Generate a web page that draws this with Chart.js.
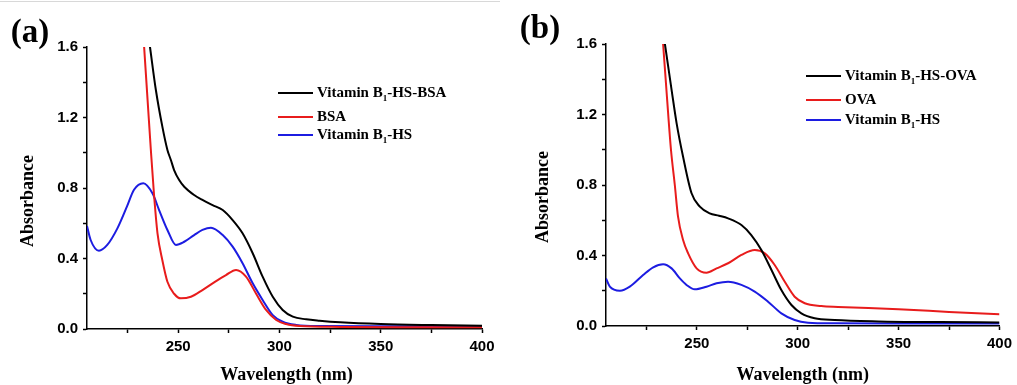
<!DOCTYPE html>
<html>
<head>
<meta charset="utf-8">
<script src="https://cdn.jsdelivr.net/npm/chart.js@4"></script>
<style>
  body { margin: 0; background: #fff; width: 1017px; height: 385px; overflow: hidden; }
  #wrapA, #wrapB { position: absolute; top: 0; }
  #wrapA { left: 0; }
  #wrapB { left: 510px; }
  #topline { position: absolute; left: 0; top: 1px; width: 500px; height: 1px; background: #d8d8d8; }
</style>
</head>
<body>
<div id="topline"></div>
<div id="wrapA"><canvas id="chartA" width="505" height="385"></canvas></div>
<div id="wrapB"><canvas id="chartB" width="507" height="385"></canvas></div>
<script>
// Panel (a): Vitamin B1-HS / BSA
const wlA_black = [234.9, 236.1, 239.0, 242.2, 244.7, 246.4, 248.0, 250.5, 253.0, 257.9, 262.0, 267.0, 272.0, 276.9, 281.8, 286.8, 291.7, 296.7, 301.6, 306.6, 313.2, 319.8, 330, 350, 375, 400];
const absA_black = [1.70, 1.60, 1.356, 1.148, 1.016, 0.959, 0.902, 0.845, 0.807, 0.76, 0.732, 0.703, 0.675, 0.618, 0.543, 0.43, 0.297, 0.183, 0.108, 0.07, 0.055, 0.047, 0.038, 0.028, 0.022, 0.018];

const wlA_red = [232.6, 233.2, 234.9, 236.5, 238.1, 239.8, 242.2, 244.7, 248.0, 251.3, 256.3, 262.0, 267.0, 273.6, 278.6, 283.5, 288.5, 293.4, 298.4, 303.3, 310, 330, 360, 400];
const absA_red = [1.70, 1.60, 1.30, 1.02, 0.76, 0.543, 0.39, 0.268, 0.20, 0.174, 0.183, 0.221, 0.259, 0.306, 0.335, 0.297, 0.20, 0.108, 0.051, 0.028, 0.017, 0.012, 0.01, 0.01];

const wlA_blue = [205.0, 206.8, 210.9, 215.0, 220.0, 224.9, 228.2, 232.8, 237.3, 240.6, 244.7, 248.9, 253.0, 257.9, 262.0, 266.2, 272.0, 276.9, 281.8, 286.8, 291.7, 296.7, 301.6, 308.3, 319.8, 350, 400];
const absA_blue = [0.585, 0.505, 0.444, 0.477, 0.571, 0.70, 0.79, 0.827, 0.77, 0.675, 0.562, 0.477, 0.495, 0.533, 0.562, 0.575, 0.533, 0.467, 0.373, 0.259, 0.165, 0.079, 0.041, 0.023, 0.017, 0.016, 0.016];

const labelsA = ['Vitamin B₁-HS-BSA', 'BSA', 'Vitamin B₁-HS'];

// Panel (b): Vitamin B1-HS / OVA
const wlB_black = [232.9, 234.2, 237.5, 240.0, 243.2, 247.4, 251.5, 256.4, 261.0, 265.5, 272.1, 277.0, 282.0, 287.0, 291.9, 296.9, 301.8, 308.4, 318.3, 340, 370, 400];
const absB_black = [1.70, 1.60, 1.34, 1.15, 0.96, 0.753, 0.677, 0.639, 0.626, 0.611, 0.573, 0.516, 0.431, 0.318, 0.204, 0.119, 0.072, 0.044, 0.034, 0.026, 0.022, 0.02];

const wlB_red = [232.6, 233.3, 235.2, 237.2, 239.1, 240.7, 243.2, 245.7, 249.9, 254.8, 259.8, 265.5, 272.1, 278.7, 283.7, 288.6, 293.6, 298.5, 303.5, 311.7, 320, 350, 375, 400];
const absB_red = [1.70, 1.60, 1.30, 1.0, 0.80, 0.62, 0.488, 0.412, 0.327, 0.302, 0.327, 0.356, 0.403, 0.431, 0.412, 0.346, 0.251, 0.166, 0.129, 0.113, 0.108, 0.095, 0.08, 0.066];

const wlB_blue = [205.0, 206.9, 211.9, 216.8, 223.4, 228.4, 233.3, 237.5, 241.6, 244.9, 249.0, 254.8, 259.8, 265.5, 272.1, 278.7, 285.3, 291.9, 298.5, 305.1, 318.3, 350, 400];
const absB_blue = [0.27, 0.223, 0.20, 0.223, 0.289, 0.333, 0.35, 0.327, 0.27, 0.233, 0.208, 0.223, 0.242, 0.251, 0.233, 0.195, 0.138, 0.072, 0.034, 0.019, 0.015, 0.014, 0.014];

const labelsB = ['Vitamin B₁-HS-OVA', 'OVA', 'Vitamin B₁-HS'];

const BLACK = '#000000';
const RED = 'rgb(232,28,28)';
const BLUE = 'rgb(28,28,225)';
const SERIF = '"Liberation Serif", "Times New Roman", serif';
const SANS = '"Liberation Sans", Arial, sans-serif';

function pts(xs, ys) {
  return xs.map((x, i) => ({ x: x, y: ys[i] }));
}

function ds(label, xs, ys, color) {
  return {
    label: label,
    data: pts(xs, ys),
    borderColor: color,
    backgroundColor: color,
    borderWidth: 2,
    pointRadius: 0,
    cubicInterpolationMode: 'monotone',
    fill: false
  };
}

// draws panel letter, axis titles and the legend (with subscript 1)
const decor = {
  id: 'decor',
  afterDraw(chart, args, o) {
    const ctx = chart.ctx;
    const area = chart.chartArea;
    ctx.save();
    ctx.fillStyle = '#000';
    ctx.textBaseline = 'middle';

    ctx.font = 'bold 33px ' + SERIF;
    ctx.textAlign = 'center';
    ctx.fillText(o.letter, o.letterX, o.letterY);

    ctx.font = 'bold 18px ' + SERIF;
    ctx.fillText('Wavelength (nm)', (area.left + area.right) / 2 + o.xTitleShift, o.xTitleY);
    ctx.save();
    ctx.translate(o.yTitleX, o.yTitleY);
    ctx.rotate(-Math.PI / 2);
    ctx.fillText('Absorbance', 0, 0);
    ctx.restore();

    ctx.textAlign = 'left';
    chart.data.datasets.forEach((d, i) => {
      const y = o.rows[i];
      ctx.strokeStyle = d.borderColor;
      ctx.lineWidth = 2;
      ctx.beginPath();
      ctx.moveTo(o.legendX, y);
      ctx.lineTo(o.legendX + 35, y);
      ctx.stroke();
      let x = o.legendX + 39;
      const parts = d.label.split('₁');
      parts.forEach((p, k) => {
        ctx.font = 'bold 15px ' + SERIF;
        ctx.fillText(p, x, y);
        x += ctx.measureText(p).width;
        if (k < parts.length - 1) {
          ctx.font = 'bold 9px ' + SERIF;
          ctx.fillText('1', x, y + 6);
          x += ctx.measureText('1').width;
        }
      });
    });
    ctx.restore();
  }
};

function makeOptions(p) {
  return {
    responsive: false,
    animation: false,
    layout: { padding: { left: 0, top: p.top, right: p.right, bottom: 0 } },
    plugins: {
      legend: { display: false },
      tooltip: { enabled: false },
      decor: p.decor
    },
    scales: {
      x: {
        type: 'linear',
        min: 205,
        max: 400,
        afterBuildTicks: s => { s.ticks = s.ticks.filter(t => t.value % 25 === 0); },
        afterFit: s => { s.height = p.xHeight; },
        ticks: {
          stepSize: 25,
          autoSkip: false,
          maxRotation: 0,
          padding: 5,
          color: '#000',
          font: { family: SANS, size: 15, weight: 'bold' },
          callback: v => (v % 50 === 0 ? String(v) : '')
        },
        grid: { drawOnChartArea: false, drawTicks: true, tickLength: 4, tickWidth: 1.5, tickColor: '#000' },
        border: { display: true, color: '#000', width: 1.5 }
      },
      y: {
        type: 'linear',
        min: 0,
        max: 1.6,
        afterFit: s => { s.width = p.yWidth; },
        ticks: {
          stepSize: 0.2,
          autoSkip: false,
          padding: 5,
          color: '#000',
          font: { family: SANS, size: 15, weight: 'bold' },
          callback: v => {
            const r = Math.round(v * 10);
            return r % 4 === 0 ? (r / 10).toFixed(1) : '';
          }
        },
        grid: { drawOnChartArea: false, drawTicks: true, tickLength: 4, tickWidth: 1.5, tickColor: '#000' },
        border: { display: true, color: '#000', width: 1.5 }
      }
    }
  };
}

new Chart(document.getElementById('chartA').getContext('2d'), {
  type: 'line',
  data: {
    datasets: [
      ds(labelsA[0], wlA_black, absA_black, BLACK),
      ds(labelsA[1], wlA_red, absA_red, RED),
      ds(labelsA[2], wlA_blue, absA_blue, BLUE)
    ]
  },
  options: makeOptions({
    top: 47, right: 23, xHeight: 56, yWidth: 87,
    decor: { letter: '(a)', letterX: 30, letterY: 33, xTitleY: 375, xTitleShift: 2, yTitleX: 28, yTitleY: 201, legendX: 278, rows: [93, 117, 135] }
  }),
  plugins: [decor]
});

new Chart(document.getElementById('chartB').getContext('2d'), {
  type: 'line',
  data: {
    datasets: [
      ds(labelsB[0], wlB_black, absB_black, BLACK),
      ds(labelsB[1], wlB_red, absB_red, RED),
      ds(labelsB[2], wlB_blue, absB_blue, BLUE)
    ]
  },
  options: makeOptions({
    top: 44, right: 16, xHeight: 59, yWidth: 96,
    decor: { letter: '(b)', letterX: 30, letterY: 29, xTitleY: 375, xTitleShift: 0, yTitleX: 33, yTitleY: 197, legendX: 296, rows: [76, 100, 120] }
  }),
  plugins: [decor]
});
</script>
</body>
</html>
